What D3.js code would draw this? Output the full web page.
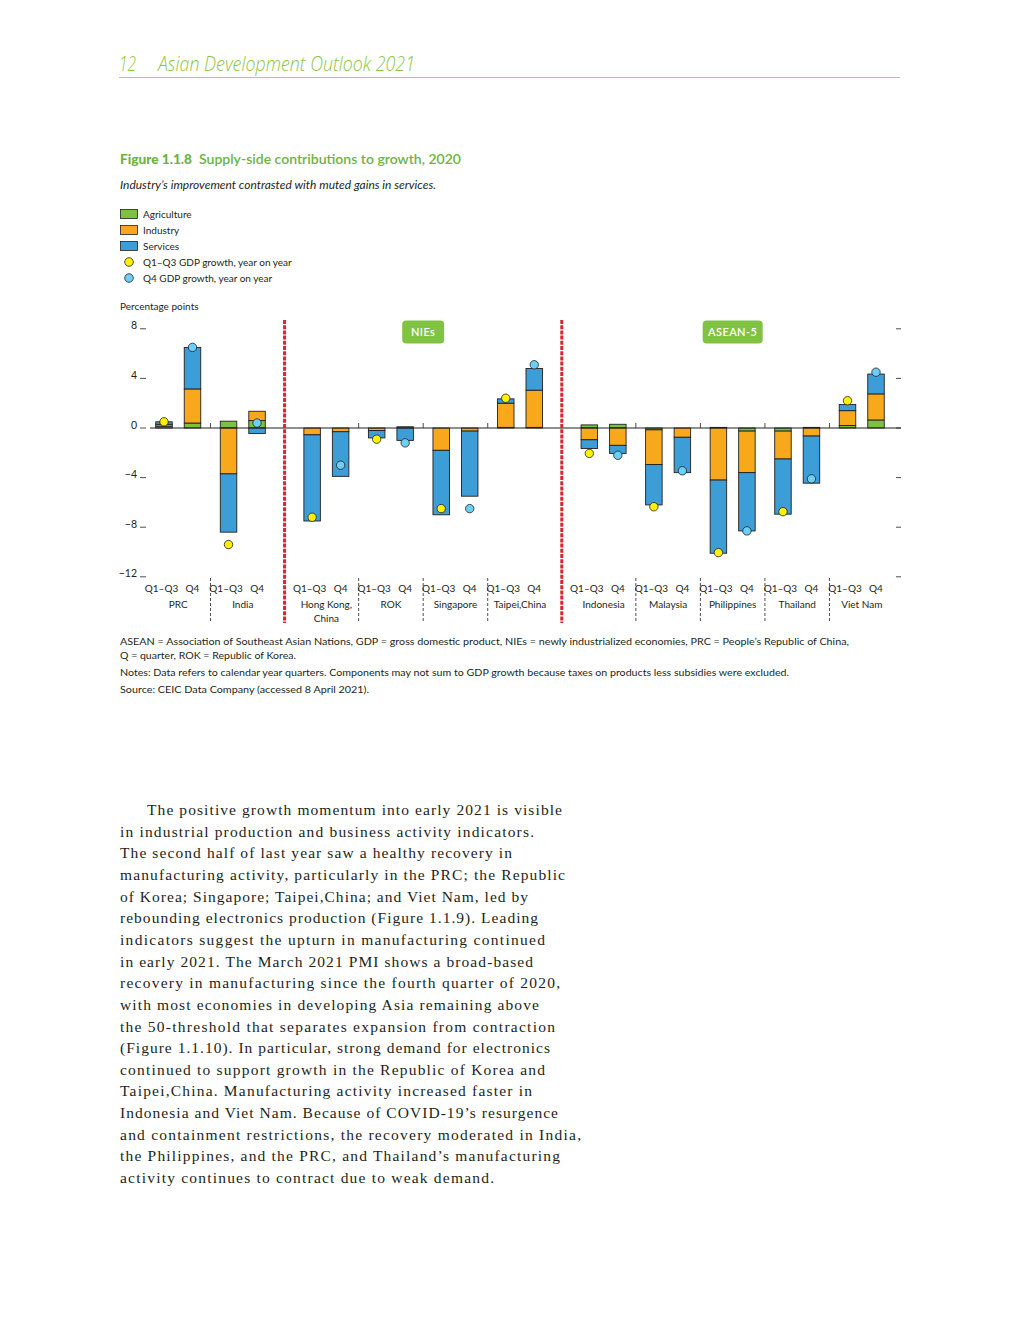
<!DOCTYPE html>
<html>
<head>
<meta charset="utf-8">
<script src="https://cdn.jsdelivr.net/npm/d3@7"></script>
<style>
  body { margin: 0; background: #fff; }
  svg { display: block; }
</style>
</head>
<body>
<svg id="page" width="1020" height="1320"></svg>
<script>
// ---- data ----
var countries = ['PRC', 'India', 'Hong Kong,|China', 'ROK', 'Singapore', 'Taipei,China',
                 'Indonesia', 'Malaysia', 'Philippines', 'Thailand', 'Viet Nam'];
var regionOf = [0, 0, 1, 1, 1, 1, 2, 2, 2, 2, 2];
var periods = ['Q1–Q3', 'Q4'];

// [Q1-Q3, Q4] per economy, percentage points
var agriculture = [[0.15, 0.4], [0.55, 0.6], [0, 0], [0, 0], [0, 0], [0.05, 0.05],
                   [0.25, 0.3], [-0.15, 0], [0.05, -0.25], [-0.25, 0.05], [0.2, 0.65]];
var industry = [[0.15, 2.75], [-3.7, 0.75], [-0.55, -0.3], [-0.2, 0.1], [-1.8, -0.25], [1.95, 3.0],
                [-0.95, -1.4], [-2.8, -0.75], [-4.2, -3.35], [-2.25, -0.65], [1.2, 2.1]];
var services = [[0.2, 3.35], [-4.7, -0.45], [-6.95, -3.6], [-0.6, -1.0], [-5.2, -5.25], [0.35, 1.75],
                [-0.7, -0.65], [-3.25, -2.85], [-5.9, -4.7], [-4.45, -3.8], [0.5, 1.6]];
var gdpQ13 = [0.5, -9.4, -7.2, -0.9, -6.5, 2.4, -2.05, -6.35, -10.05, -6.75, 2.2];
var gdpQ4 = [6.5, 0.4, -3.0, -1.2, -6.5, 5.1, -2.2, -3.45, -8.3, -4.1, 4.5];

var yTicks = [8, 4, 0, -4, -8, -12];
var regionNames = ['NIEs', 'ASEAN-5'];

var seriesKeys = ['agriculture', 'industry', 'services'];
var seriesLabels = ['Agriculture', 'Industry', 'Services'];
var colors = {agriculture: '#7cc242', industry: '#f8a91b', services: '#3d9dd7'};
var green = '#80c343';
var ink = '#231f20';

// body text lines with their measured widths on the page
var bodyLines = [
  ['The positive growth momentum into early 2021 is visible', 415],
  ['in industrial production and business activity indicators.', 414],
  ['The second half of last year saw a healthy recovery in', 392],
  ['manufacturing activity, particularly in the PRC; the Republic', 445],
  ['of Korea; Singapore; Taipei,China; and Viet Nam, led by', 408],
  ['rebounding electronics production (Figure 1.1.9). Leading', 418],
  ['indicators suggest the upturn in manufacturing continued', 425],
  ['in early 2021. The March 2021 PMI shows a broad-based', 413],
  ['recovery in manufacturing since the fourth quarter of 2020,', 440],
  ['with most economies in developing Asia remaining above', 419],
  ['the 50-threshold that separates expansion from contraction', 435],
  ['(Figure 1.1.10). In particular, strong demand for electronics', 430],
  ['continued to support growth in the Republic of Korea and', 425],
  ['Taipei,China. Manufacturing activity increased faster in', 412],
  ['Indonesia and Viet Nam. Because of COVID-19’s resurgence', 438],
  ['and containment restrictions, the recovery moderated in India,', 461],
  ['the Philippines, and the PRC, and Thailand’s manufacturing', 440],
  ['activity continues to contract due to weak demand.', 374]
];

// build rows for the stack
var rows = [];
countries.forEach(function(c, i) {
    periods.forEach(function(p, j) {
        rows.push({country: i, period: p, agriculture: agriculture[i][j],
                   industry: industry[i][j], services: services[i][j],
                   gdp: j == 0 ? gdpQ13[i] : gdpQ4[i]});
    });
});

var svg = d3.select('#page');
var sans = 'Lato, "Open Sans", sans-serif';

// ---- page header ----
svg.append('text').attr('x', 119).attr('y', 71)
    .style('font', 'italic 300 20.5px "Open Sans"').attr('fill', '#8cc63f')
    .attr('textLength', 17).attr('lengthAdjust', 'spacingAndGlyphs').text('12');
svg.append('text').attr('x', 158).attr('y', 71)
    .style('font', 'italic 300 20.5px "Open Sans"').attr('fill', '#8cc63f')
    .attr('textLength', 257).attr('lengthAdjust', 'spacingAndGlyphs')
    .text('Asian Development Outlook 2021');
svg.append('line').attr('x1', 119).attr('x2', 900).attr('y1', 77.5).attr('y2', 77.5)
    .attr('stroke', '#a9d373').attr('stroke-width', 1);

// ---- title block ----
svg.append('text').attr('x', 120).attr('y', 164)
    .style('font', '900 14px ' + sans).attr('fill', '#6db33f')
    .attr('textLength', 72).attr('lengthAdjust', 'spacingAndGlyphs').text('Figure 1.1.8');
svg.append('text').attr('x', 199).attr('y', 164)
    .style('font', '600 14px ' + sans).attr('fill', '#6db33f')
    .attr('textLength', 262).attr('lengthAdjust', 'spacingAndGlyphs')
    .text('Supply-side contributions to growth, 2020');
svg.append('text').attr('x', 120).attr('y', 189)
    .style('font', 'italic 11px ' + sans).attr('fill', ink)
    .attr('textLength', 316).attr('lengthAdjust', 'spacingAndGlyphs')
    .text('Industry’s improvement contrasted with muted gains in services.');

// legend
var legend = svg.append('g').style('font', '10px ' + sans).attr('fill', ink);
seriesKeys.forEach(function(k, i) {
    legend.append('rect').attr('x', 120.5).attr('y', 209.5 + i * 16).attr('width', 17).attr('height', 9)
        .attr('fill', colors[k]).attr('stroke', ink).attr('stroke-width', 0.8);
    legend.append('text').attr('x', 143).attr('y', 218 + i * 16).text(seriesLabels[i]);
});
[['#fff200', 'Q1–Q3 GDP growth, year on year'], ['#6dcff6', 'Q4 GDP growth, year on year']].forEach(function(d, i) {
    legend.append('circle').attr('cx', 129).attr('cy', 262 + i * 16).attr('r', 4.3)
        .attr('fill', d[0]).attr('stroke', ink).attr('stroke-width', 0.8);
    legend.append('text').attr('x', 143).attr('y', 265.5 + i * 16).text(d[1]);
});
svg.append('text').attr('x', 120).attr('y', 310).style('font', '10px ' + sans).attr('fill', ink)
    .text('Percentage points');

// ---- scales ----
var y = d3.scaleLinear().domain([-12, 8]).range([576.8, 328.8]);
var regionGap = 0.295;
var slot = countries.map(function(c, i) { return i + regionGap * regionOf[i]; });
var xg = d3.scaleLinear().domain([0, 10 + 2 * regionGap]).range([178.25, 861.75]);
var xp = d3.scalePoint().domain(periods).range([-14.25, 14.25]);
var barW = 16.5;
function xc(d) { return xg(slot[d.country]) + xp(d.period); }

var chart = svg.append('g');

// y ticks, left with labels and right without
yTicks.forEach(function(t) {
    chart.append('line').attr('x1', 140).attr('x2', 146).attr('y1', y(t)).attr('y2', y(t))
        .attr('stroke', ink).attr('stroke-width', 0.8);
    chart.append('line').attr('x1', 896).attr('x2', 901).attr('y1', y(t)).attr('y2', y(t))
        .attr('stroke', ink).attr('stroke-width', 0.8);
    chart.append('text').attr('x', 137).attr('y', y(t) + 0.5).attr('text-anchor', 'end')
        .style('font', '10.5px ' + sans).attr('fill', ink).text(t < 0 ? '−' + (-t) : t);
});

// group boundaries (not at region breaks)
var bounds = [];
for (var i = 0; i < countries.length - 1; i++) {
    var mid = (xg(slot[i]) + xg(slot[i + 1])) / 2;
    bounds.push({x: mid, region: regionOf[i] != regionOf[i + 1]});
}
bounds.filter(function(b) { return !b.region; }).forEach(function(b) {
    chart.append('line').attr('x1', b.x).attr('x2', b.x).attr('y1', y(0) - 5).attr('y2', y(0))
        .attr('stroke', ink).attr('stroke-width', 0.8);
    chart.append('line').attr('x1', b.x).attr('x2', b.x).attr('y1', 578).attr('y2', 623)
        .attr('stroke', ink).attr('stroke-width', 0.8).attr('stroke-dasharray', '3,2');
});

// stacked bars
var stack = d3.stack().keys(seriesKeys).offset(d3.stackOffsetDiverging);
var layers = stack(rows);
chart.append('g').selectAll('g')
    .data(layers)
    .join('g')
    .attr('fill', function(d) { return colors[d.key]; })
    .selectAll('rect')
    .data(function(d) { return d.filter(function(s) { return s[1] - s[0] != 0; }); })
    .join('rect')
    .attr('x', function(d) { return xc(d.data) - barW / 2; })
    .attr('width', barW)
    .attr('y', function(d) { return y(d[1]); })
    .attr('height', function(d) { return y(d[0]) - y(d[1]); })
    .attr('stroke', ink).attr('stroke-width', 0.9);

// zero line
chart.append('line').attr('x1', 150).attr('x2', 901).attr('y1', y(0)).attr('y2', y(0))
    .attr('stroke', ink).attr('stroke-width', 1);

// region separators
bounds.filter(function(b) { return b.region; }).forEach(function(b) {
    chart.append('line').attr('x1', b.x).attr('x2', b.x).attr('y1', 320).attr('y2', 623)
        .attr('stroke', '#d6272e').attr('stroke-width', 3).attr('stroke-dasharray', '4,1.2');
});

// region badges
regionNames.forEach(function(name, r) {
    var idx = d3.range(countries.length).filter(function(i) { return regionOf[i] == r + 1; });
    var cx = (xg(slot[idx[0]]) + xg(slot[idx[idx.length - 1]])) / 2;
    var w = r == 0 ? 42 : 60;
    chart.append('rect').attr('x', cx - w / 2).attr('y', 320.5).attr('width', w).attr('height', 23)
        .attr('rx', 4).attr('fill', green);
    chart.append('text').attr('x', cx).attr('y', 336).attr('text-anchor', 'middle')
        .style('font', '600 11px ' + sans).attr('fill', '#fff').style('letter-spacing', '0.4px').text(name);
});

// GDP dots
chart.append('g').selectAll('circle')
    .data(rows)
    .join('circle')
    .attr('cx', xc)
    .attr('cy', function(d) { return y(d.gdp); })
    .attr('r', 4.2)
    .attr('fill', function(d) { return d.period == periods[0] ? '#fff200' : '#6dcff6'; })
    .attr('stroke', ink).attr('stroke-width', 0.8);

// x labels
var xl = chart.append('g').style('font', '10px ' + sans).attr('fill', ink).attr('text-anchor', 'middle');
rows.forEach(function(d) {
    xl.append('text').attr('x', xc(d) - (d.period == periods[0] ? 2.5 : 0)).attr('y', 592).text(d.period);
});
countries.forEach(function(c, i) {
    c.split('|').forEach(function(part, k) {
        xl.append('text').attr('x', xg(slot[i])).attr('y', 608 + k * 14).text(part);
    });
});

// ---- notes ----
var notes = [
    ['ASEAN = Association of Southeast Asian Nations, GDP = gross domestic product, NIEs = newly industrialized economies, PRC = People’s Republic of China,', 645, 729],
    ['Q = quarter, ROK = Republic of Korea.', 659, 176],
    ['Notes: Data refers to calendar year quarters. Components may not sum to GDP growth because taxes on products less subsidies were excluded.', 676, 669],
    ['Source: CEIC Data Company (accessed 8 April 2021).', 693, 249]
];
notes.forEach(function(n) {
    svg.append('text').attr('x', 120).attr('y', n[1]).style('font', '9.5px ' + sans).attr('fill', ink)
        .attr('textLength', n[2]).attr('lengthAdjust', 'spacingAndGlyphs').text(n[0]);
});

// ---- body text ----
var body = svg.append('g').style('font', '15.5px "Liberation Serif", serif').attr('fill', ink);
bodyLines.forEach(function(line, i) {
    body.append('text').attr('x', i == 0 ? 147 : 120).attr('y', 815 + i * 21.65)
        .attr('textLength', line[1]).attr('lengthAdjust', 'spacing').text(line[0]);
});
</script>
</body>
</html>
